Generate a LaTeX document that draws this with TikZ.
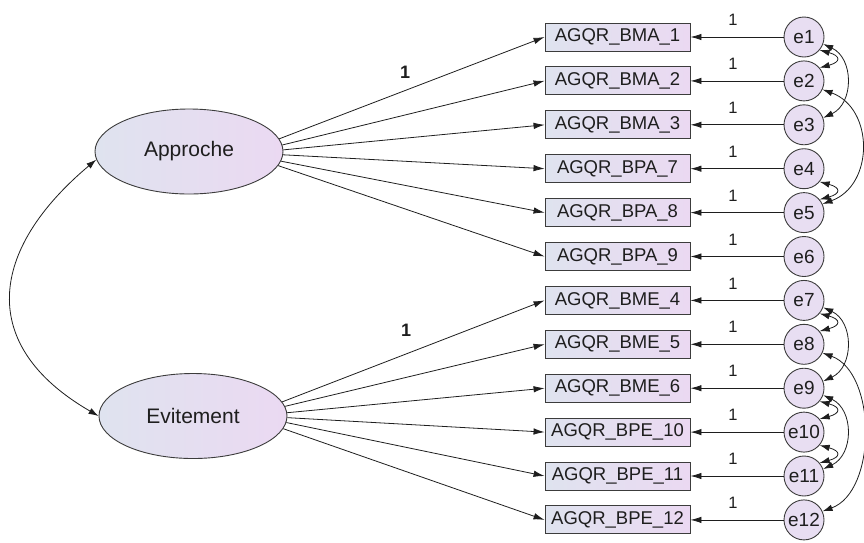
\documentclass[tikz,border=0pt]{standalone}
\usepackage{fontspec}
\setmainfont{Liberation Sans}
\usetikzlibrary{arrows.meta,shapes.geometric}

\definecolor{fillL}{RGB}{223,227,239}
\definecolor{fillR}{RGB}{235,217,242}
\definecolor{errfill}{RGB}{232,222,242}
\definecolor{edge}{RGB}{60,60,60}
\definecolor{ink}{RGB}{30,30,30}

\begin{document}
\begin{tikzpicture}[x=1pt,y=1pt,
  obs/.style={rectangle, draw=edge, line width=0.9pt, left color=fillL, right color=fillR,
    minimum width=145pt, minimum height=28pt, inner sep=0pt, text=ink,
    font=\fontsize{18.5}{20}\selectfont},
  lat/.style={ellipse, draw=edge, line width=0.9pt, left color=fillL, right color=fillR,
    minimum width=188pt, minimum height=85pt, inner sep=0pt, text=ink,
    font=\fontsize{21}{24}\selectfont},
  err/.style={circle, draw=edge, line width=0.9pt, fill=errfill, minimum size=40pt,
    inner sep=0pt, text=ink, font=\fontsize{19}{21}\selectfont},
  reg/.style={draw=ink, line width=0.8pt, -{Latex[length=11pt,width=6.5pt]}},
  cov/.style={draw=ink, line width=0.8pt,
    {Latex[length=10pt,width=6.5pt]}-{Latex[length=10pt,width=6.5pt]}},
  one/.style={text=ink, font=\fontsize{16.5}{18}\selectfont},
  fixlbl/.style={text=ink, font=\bfseries\fontsize{18}{20}\selectfont}
]
\useasboundingbox (0,0) rectangle (864,-542);

% observed indicators, their error terms and unit loadings
\foreach [count=\i] \t in {BMA\_1,BMA\_2,BMA\_3,BPA\_7,BPA\_8,BPA\_9,BME\_4,BME\_5,BME\_6,BPE\_10,BPE\_11,BPE\_12} {
  \pgfmathsetmacro\yy{-37-43.9*(\i-1)}
  \node[obs] (v\i) at (617.5,\yy) {AGQR\_\t};
  \node[err] (e\i) at (804,\yy) {e\i};
  \draw[reg] (e\i) -- (v\i.east);
  \node[one] (w\i) at (733,\yy+17) {1};
}

% latent factors
\node[lat] (F1) at (189,-151.5) {Approche};
\node[lat] (F2) at (193,-416) {Evitement};

% loadings leave from the pointed right end of each factor
\foreach \i/\a in {1/8,2/4.5,3/1,4/-2.5,5/-6,6/-9.5} \draw[reg] (F1.\a) -- (v\i.west);
\foreach \i/\a in {7/9.5,8/6,9/2.5,10/-1,11/-4.5,12/-8} \draw[reg] (F2.\a) -- (v\i.west);

\node[fixlbl] (l1) at (405,-72) {1};
\node[fixlbl] (l2) at (406,-330) {1};

% factor covariance
\draw[cov] (F1.185) to[out=220,in=150,looseness=1.4] (F2.west);

% error covariances
\draw[cov] (e1.-40) to[out=-15,in=15,distance=22pt] (e2.40);
\draw[cov] (e1.-20) to[out=-25,in=25,distance=34pt] (e3.20);
\draw[cov] (e2.-25) to[out=-20,in=20,distance=55pt] (e5.25);
\draw[cov] (e4.-40) to[out=-15,in=15,distance=22pt] (e5.40);

\draw[cov] (e7.-40) to[out=-15,in=15,distance=22pt] (e8.40);
\draw[cov] (e7.-20) to[out=-25,in=25,distance=34pt] (e9.20);
\draw[cov] (e8.-25) to[out=-20,in=20,distance=58pt] (e12.25);
\draw[cov] (e9.-40) to[out=-15,in=15,distance=22pt] (e10.40);
\draw[cov] (e9.-20) to[out=-25,in=25,distance=34pt] (e11.20);
\draw[cov] (e10.-40) to[out=-15,in=15,distance=22pt] (e11.40);
\end{tikzpicture}
\end{document}
